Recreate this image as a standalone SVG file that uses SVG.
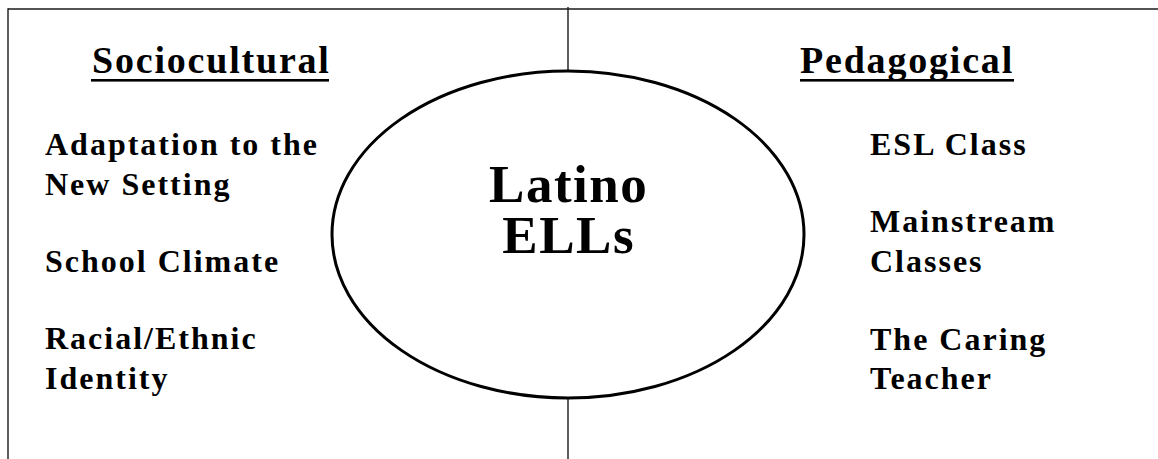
<svg xmlns="http://www.w3.org/2000/svg" width="1158" height="459" viewBox="0 0 1158 459">
  <style>
    .frame { stroke: #1a1a1a; stroke-width: 1.4; fill: none; }
    .hdr { font-family: "Liberation Serif", "Times New Roman", serif; font-weight: bold; font-size: 38px; letter-spacing: 1.8px; fill: #000; }
    .item { font-family: "Liberation Serif", "Times New Roman", serif; font-weight: bold; font-size: 32px; letter-spacing: 2px; fill: #000; }
    .center { font-family: "Liberation Serif", "Times New Roman", serif; font-weight: bold; font-size: 53px; letter-spacing: 1.5px; fill: #000; text-anchor: middle; }
  </style>
  <rect width="1158" height="459" fill="#fff"/>
  <g id="connectors">
    <line class="frame" x1="8" y1="9" x2="1158" y2="9"/>
    <line class="frame" x1="8" y1="8.3" x2="8" y2="459"/>
    <line class="frame" x1="568" y1="7" x2="568" y2="71"/>
    <line class="frame" x1="568" y1="398" x2="568" y2="459"/>
  </g>
  <g id="center-node">
    <ellipse cx="568" cy="234.5" rx="236" ry="163.5" fill="none" stroke="#000" stroke-width="3"/>
    <text class="center" x="568.7" y="201.5">Latino</text>
    <text class="center" x="568.7" y="252.5">ELLs</text>
  </g>
  <g id="sociocultural">
    <text class="hdr" x="92" y="73">Sociocultural</text>
    <rect x="91" y="79" width="238" height="2.6" fill="#000"/>
    <text class="item" x="45" y="155">Adaptation to the</text>
    <text class="item" x="45" y="194.5">New Setting</text>
    <text class="item" x="45" y="271.5">School Climate</text>
    <text class="item" x="45" y="348.5">Racial/Ethnic</text>
    <text class="item" x="45" y="389">Identity</text>
  </g>
  <g id="pedagogical">
    <text class="hdr" x="800" y="73">Pedagogical</text>
    <rect x="800" y="79" width="214" height="2.6" fill="#000"/>
    <text class="item" x="870" y="155">ESL Class</text>
    <text class="item" x="870" y="232">Mainstream</text>
    <text class="item" x="870" y="271.5">Classes</text>
    <text class="item" x="870" y="349.5">The Caring</text>
    <text class="item" x="870" y="389">Teacher</text>
  </g>
</svg>
